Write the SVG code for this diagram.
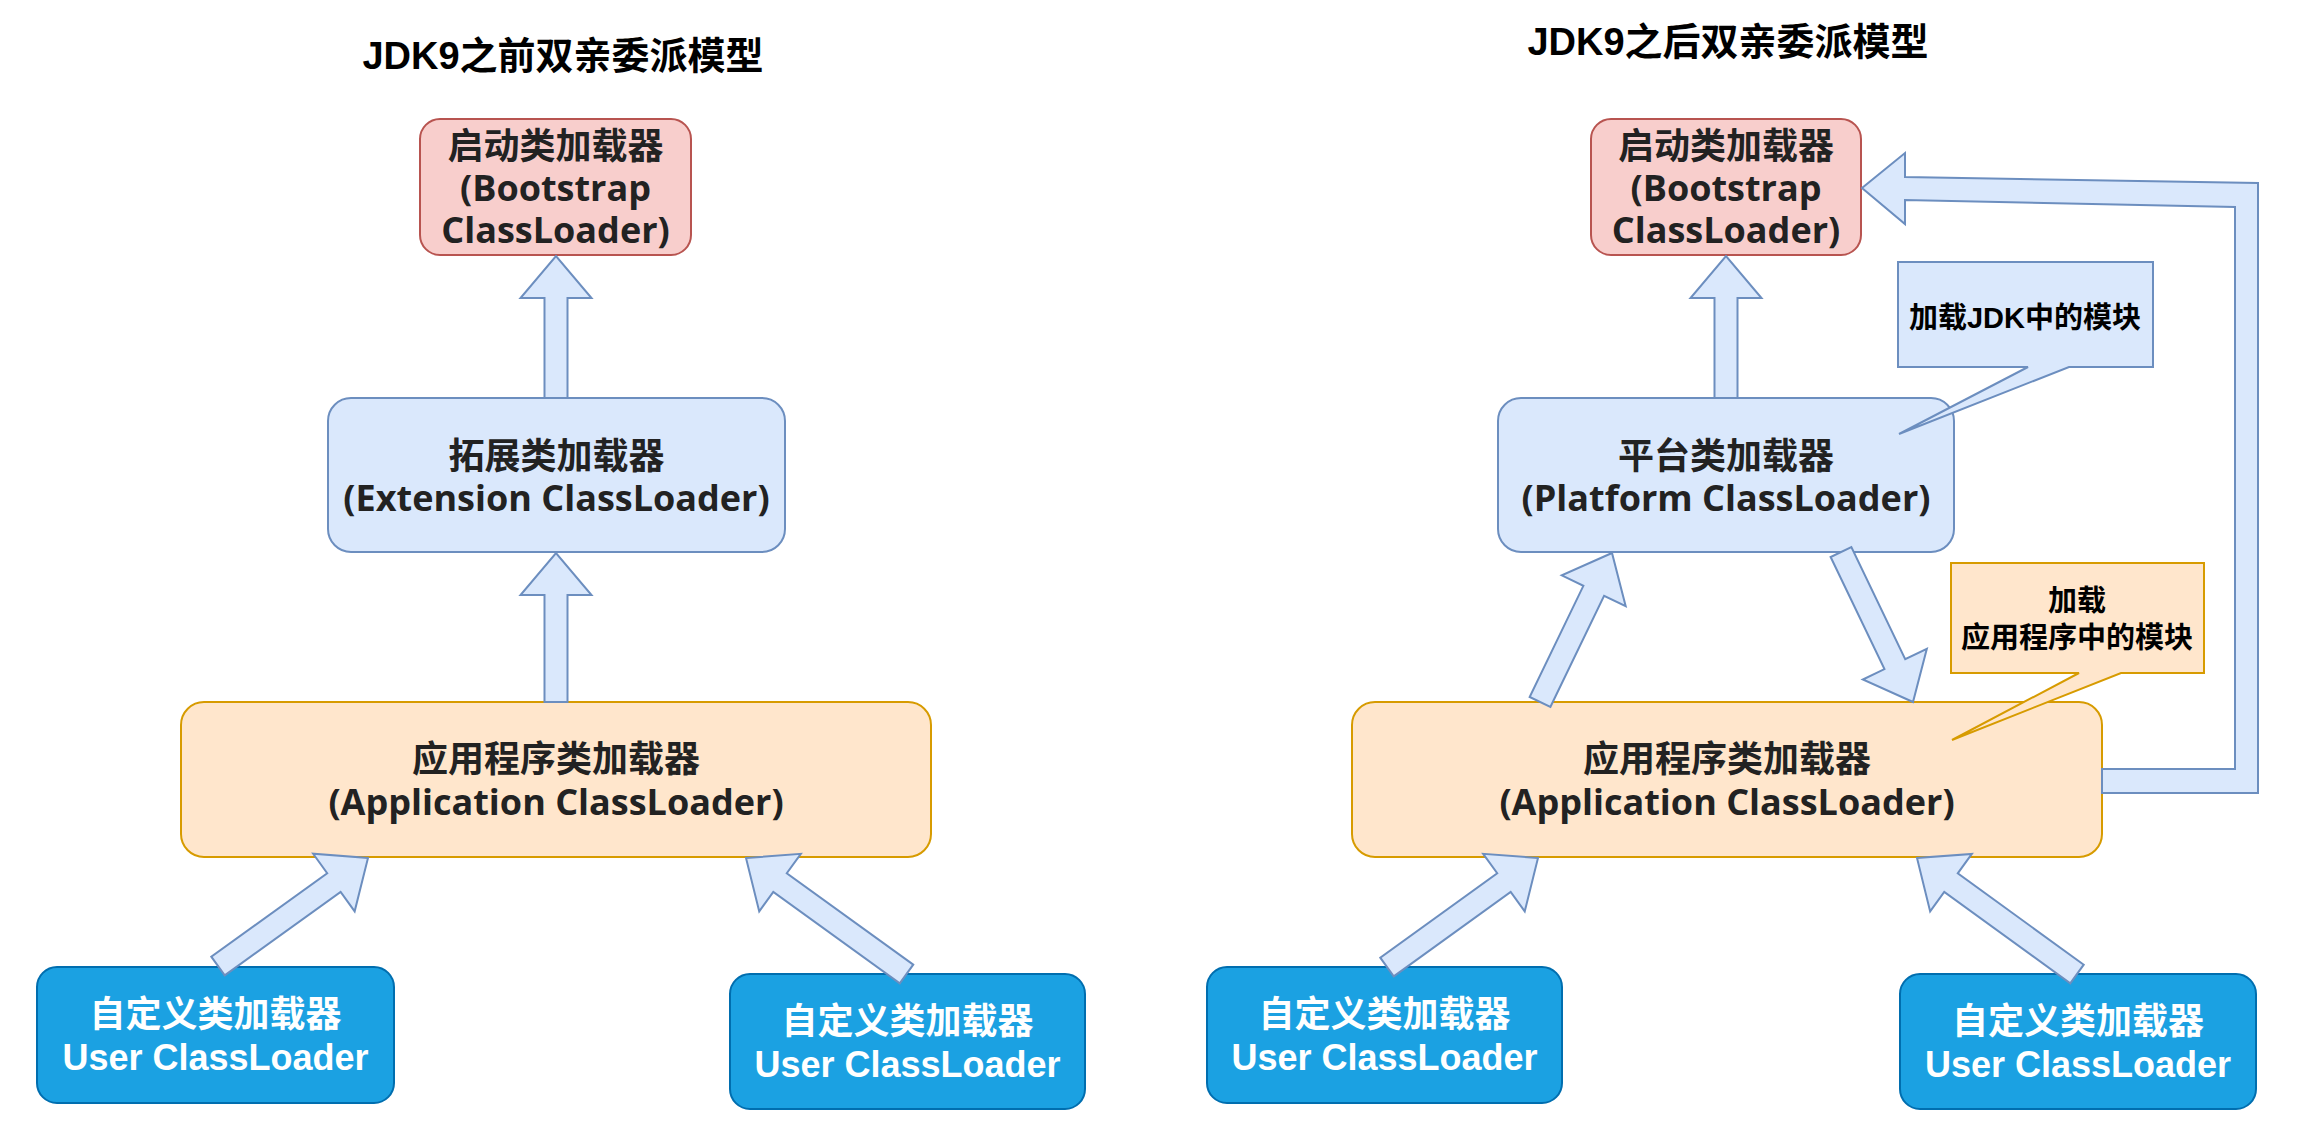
<svg xmlns="http://www.w3.org/2000/svg" width="2305" height="1138" viewBox="0 0 2305 1138">
<style>
.title{font-family:"Liberation Sans","Noto Sans CJK SC",sans-serif;font-weight:bold;font-size:38px;fill:#000;text-anchor:middle}
.lbl{font-family:"Open Sans","Noto Sans CJK SC",sans-serif;font-weight:bold;font-size:36px;fill:#222;text-anchor:middle}
.ulbl{font-family:"Liberation Sans","Noto Sans CJK SC",sans-serif;font-weight:bold;font-size:36px;fill:#fff;text-anchor:middle}
.clbl{font-family:"Liberation Sans","Noto Sans CJK SC",sans-serif;font-weight:bold;font-size:29px;fill:#000;text-anchor:middle}
.red{fill:#f8cecc;stroke:#b85450;stroke-width:2}
.blue{fill:#dae8fc;stroke:#6c8ebf;stroke-width:2}
.orange{fill:#ffe6cc;stroke:#d79b00;stroke-width:2}
.user{fill:#1ba1e2;stroke:#006eaf;stroke-width:2}
.arrow{fill:#dae8fc;stroke:#6c8ebf;stroke-width:2;stroke-linejoin:miter}
</style>
<rect width="2305" height="1138" fill="#fff"/>
<text class="title" x="563" y="69">JDK9之前双亲委派模型</text>
<text class="title" x="1728" y="55">JDK9之后双亲委派模型</text>

<g id="boot-left">
<rect class="red" x="420" y="119" width="271" height="136" rx="20"/>
<text class="lbl" x="555.5" y="159">启动类加载器<tspan x="555.5" dy="42">(Bootstrap</tspan><tspan x="555.5" dy="42">ClassLoader)</tspan></text>
</g>
<g id="ext-left">
<rect class="blue" x="328" y="398" width="457" height="154" rx="23"/>
<text class="lbl" x="556.5" y="469">拓展类加载器<tspan x="556.5" dy="42">(Extension ClassLoader)</tspan></text>
</g>
<g id="app-left">
<rect class="orange" x="181" y="702" width="750" height="155" rx="23"/>
<text class="lbl" x="556" y="772">应用程序类加载器<tspan x="556" dy="43">(Application ClassLoader)</tspan></text>
</g>
<g id="user-left-1">
<rect class="user" x="37" y="967" width="357" height="136" rx="20"/>
<text class="ulbl" x="215.5" y="1027">自定义类加载器<tspan x="215.5" dy="43">User ClassLoader</tspan></text>
</g>
<g id="user-left-2">
<rect class="user" x="730" y="974" width="355" height="135" rx="20"/>
<text class="ulbl" x="907.5" y="1034">自定义类加载器<tspan x="907.5" dy="43">User ClassLoader</tspan></text>
</g>

<g id="boot-right">
<rect class="red" x="1591" y="119" width="270" height="136" rx="20"/>
<text class="lbl" x="1726" y="159">启动类加载器<tspan x="1726" dy="42">(Bootstrap</tspan><tspan x="1726" dy="42">ClassLoader)</tspan></text>
</g>
<g id="platform-right">
<rect class="blue" x="1498" y="398" width="456" height="154" rx="23"/>
<text class="lbl" x="1726" y="469">平台类加载器<tspan x="1726" dy="42">(Platform ClassLoader)</tspan></text>
</g>
<g id="app-right">
<rect class="orange" x="1352" y="702" width="750" height="155" rx="23"/>
<text class="lbl" x="1727" y="772">应用程序类加载器<tspan x="1727" dy="43">(Application ClassLoader)</tspan></text>
</g>
<g id="user-right-1">
<rect class="user" x="1207" y="967" width="355" height="136" rx="20"/>
<text class="ulbl" x="1384.5" y="1027">自定义类加载器<tspan x="1384.5" dy="43">User ClassLoader</tspan></text>
</g>
<g id="user-right-2">
<rect class="user" x="1900" y="974" width="356" height="135" rx="20"/>
<text class="ulbl" x="2078" y="1034">自定义类加载器<tspan x="2078" dy="43">User ClassLoader</tspan></text>
</g>

<g id="connectors">
<polygon class="arrow" points="544.5,398 544.5,298 520.5,298 556,256 591.5,298 567.5,298 567.5,398"/>
<polygon class="arrow" points="544.5,702 544.5,595 520.5,595 556,553 591.5,595 567.5,595 567.5,702"/>
<polygon class="arrow" points="224.72,975.33 340.63,891.87 354.66,911.35 368,858 313.16,853.73 327.19,873.21 211.28,956.67"/>
<polygon class="arrow" points="913.24,964.68 786.78,873.28 800.84,853.83 746,858 759.24,911.37 773.3,891.92 899.76,983.32"/>
<polygon class="arrow" points="1714.5,398 1714.5,298 1690.5,298 1726,256 1761.5,298 1737.5,298 1737.5,398"/>
<polygon class="arrow" points="1550.35,707 1604.08,595.82 1625.69,606.27 1612,553 1561.77,575.37 1583.38,585.82 1529.65,697"/>
<polygon class="arrow" points="1830.63,556.98 1884.46,669.12 1862.83,679.5 1913,702 1926.83,648.78 1905.2,659.16 1851.37,547.02"/>
<polygon class="arrow" points="1393.73,976.32 1510.68,891.9 1524.73,911.36 1538,858 1483.17,853.8 1497.22,873.26 1380.27,957.68"/>
<polygon class="arrow" points="2083.75,964.69 1957.75,873.34 1971.84,853.91 1917,858 1930.16,911.39 1944.25,891.96 2070.25,983.31"/>
<polygon class="arrow" points="2102,769 2235,769 2235,207 1905,200 1905,224 1862,188 1905,153 1905,177 2258,183 2258,793 2102,793"/>
</g>

<g id="callout-jdk">
<polygon class="blue" points="1898,262 2153,262 2153,367 2069,367 1899,434 2028,367 1898,367"/>
<text class="clbl" x="2025" y="328">加载JDK中的模块</text>
</g>
<g id="callout-app">
<polygon class="orange" points="1951,563 2204,563 2204,673 2121,673 1952,740 2079,673 1951,673"/>
<text class="clbl" x="2077" y="611">加载<tspan x="2077" dy="37">应用程序中的模块</tspan></text>
</g>
</svg>
